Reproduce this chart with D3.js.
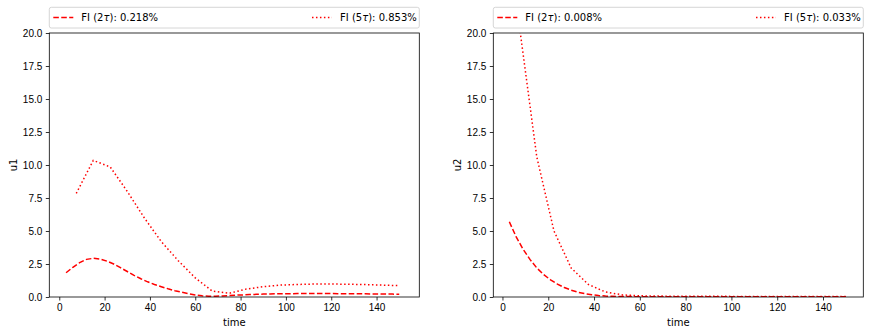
<!DOCTYPE html>
<html>
<head>
<meta charset="utf-8">
<script src="https://cdn.jsdelivr.net/npm/d3@7"></script>
<style>
  body { margin: 0; background: #fff; }
  svg { font-family: "DejaVu Sans", sans-serif; font-size: 10px; }
  .frame { fill: none; stroke: #000; stroke-width: 0.8; }
  .tick line { stroke: #000; stroke-width: 0.8; }
  .tick text { fill: #000; font-size: 10px; }
  .domain { display: none; }
  .line { fill: none; stroke: #ff0000; stroke-width: 1.5; }
  .dash { stroke-dasharray: 5.55 2.4; }
  .dot { stroke-dasharray: 1.5 2.475; }
  .legend rect { fill: #fff; fill-opacity: 0.8; stroke: #cccccc; stroke-width: 0.8; }
</style>
</head>
<body>
<svg width="869" height="335"></svg>
<script>
const w = 869, h = 335;

// sample times (2τ and 5τ steps)
const tDash = [3,6,9,12,15,18,21,24,27,30,33,36,39,42,45,48,51,54,57,60,
               63,66,69,72,75,78,81,84,87,90,93,96,99,102,105,108,111,114,117,120,
               123,126,129,132,135,138,141,144,147,150];
const tDot = [7.5,15,22.5,30,37.5,45,52.5,60,67.5,75,82.5,90,97.5,105,112.5,120,127.5,135,142.5,150];

const u1Dash = [1.84,2.25,2.6,2.85,2.93,2.88,2.72,2.5,2.22,1.93,
                1.64,1.38,1.15,0.95,0.78,0.62,0.48,0.36,0.25,0.16,
                0.09,0.06,0.06,0.08,0.11,0.14,0.16,0.18,0.2,0.22,
                0.23,0.24,0.25,0.25,0.26,0.26,0.26,0.26,0.26,0.26,
                0.25,0.25,0.25,0.24,0.24,0.23,0.23,0.22,0.22,0.21];
const u1Dot = [7.85,10.35,9.85,8.0,6.0,4.2,2.75,1.45,0.45,0.28,
               0.6,0.78,0.9,0.95,0.98,0.98,0.97,0.94,0.9,0.86];

const u2Dash = [5.7,4.55,3.62,2.85,2.2,1.7,1.3,0.98,0.72,0.52,
                0.36,0.25,0.17,0.11,0.07,0.05,0.04,0.03,0.03,0.02,
                0.02,0.02,0.02,0.02,0.02,0.02,0.02,0.02,0.02,0.02,
                0.02,0.02,0.01,0.01,0.01,0.01,0.01,0.01,0.01,0.01,
                0.01,0.01,0.01,0.01,0.01,0.01,0.01,0.01,0.01,0.01];
const u2Dot = [20.4,10.6,5.0,2.2,0.95,0.38,0.16,0.09,0.07,0.06,
               0.05,0.05,0.05,0.04,0.04,0.04,0.04,0.03,0.03,0.03];

const u1Labels = ["0.218%", "0.853%"];
const u2Labels = ["0.008%", "0.033%"];

const xTicks = [0,20,40,60,80,100,120,140];
const yTicks = [0,2.5,5,7.5,10,12.5,15,17.5,20];

const svg = d3.select("svg");
const yTop = 33, yBottom = 297;

function panel(id, left, right, xDom, name, dash, dot, labels) {
    const x = d3.scaleLinear().domain(xDom).range([left, right]);
    const y = d3.scaleLinear().domain([0, 20]).range([yBottom, yTop]);
    const g = svg.append("g");

    g.append("clipPath").attr("id", "clip" + id)
        .append("rect")
        .attr("x", left).attr("y", yTop)
        .attr("width", right - left).attr("height", yBottom - yTop);

    const line = d3.line().x(d => x(d[0])).y(d => y(d[1]));
    const plot = g.append("g").attr("clip-path", `url(#clip${id})`);
    plot.append("path").attr("class", "line dash")
        .attr("d", line(tDash.map((t, i) => [t, dash[i]])));
    plot.append("path").attr("class", "line dot")
        .attr("d", line(tDot.map((t, i) => [t, dot[i]])));

    g.append("g").attr("transform", `translate(0,${yBottom})`)
        .call(d3.axisBottom(x).tickValues(xTicks).tickFormat(d3.format("d"))
              .tickSize(3.5).tickPadding(3.5));
    g.append("g").attr("transform", `translate(${left},0)`)
        .call(d3.axisLeft(y).tickValues(yTicks).tickFormat(d3.format(".1f"))
              .tickSize(3.5).tickPadding(3.5));

    g.append("rect").attr("class", "frame")
        .attr("x", left).attr("y", yTop)
        .attr("width", right - left).attr("height", yBottom - yTop);

    g.append("text").text("time")
        .attr("x", (left + right) / 2).attr("y", 325.5)
        .attr("text-anchor", "middle");
    g.append("text").text(name)
        .attr("transform", `translate(${left - 32},${(yTop + yBottom) / 2}) rotate(-90)`)
        .attr("text-anchor", "middle");

    // legend above the axes, two columns
    const lg = g.append("g").attr("class", "legend");
    lg.append("rect")
        .attr("x", left).attr("y", 7.3)
        .attr("width", right - left).attr("height", 20.7)
        .attr("rx", 2).attr("ry", 2);
    const items = [["dash", "2", labels[0], 4], ["dot", "5", labels[1], 262.7]];
    items.forEach(([cls, k, val, off]) => {
        lg.append("line").attr("class", "line " + cls)
            .attr("x1", left + off).attr("x2", left + off + 20)
            .attr("y1", 17.5).attr("y2", 17.5);
        const t = lg.append("text")
            .attr("x", left + off + 28).attr("y", 21.2);
        t.append("tspan").text(`FI (${k}`);
        t.append("tspan").attr("font-style", "italic").text("τ");
        t.append("tspan").text(`): ${val}`);
    });
}

panel(1, 49.3, 419.3, [-4.4, 158.85], "u1", u1Dash, u1Dot, u1Labels);
panel(2, 493.3, 863.3, [-4.0, 157.6], "u2", u2Dash, u2Dot, u2Labels);
</script>
</body>
</html>
